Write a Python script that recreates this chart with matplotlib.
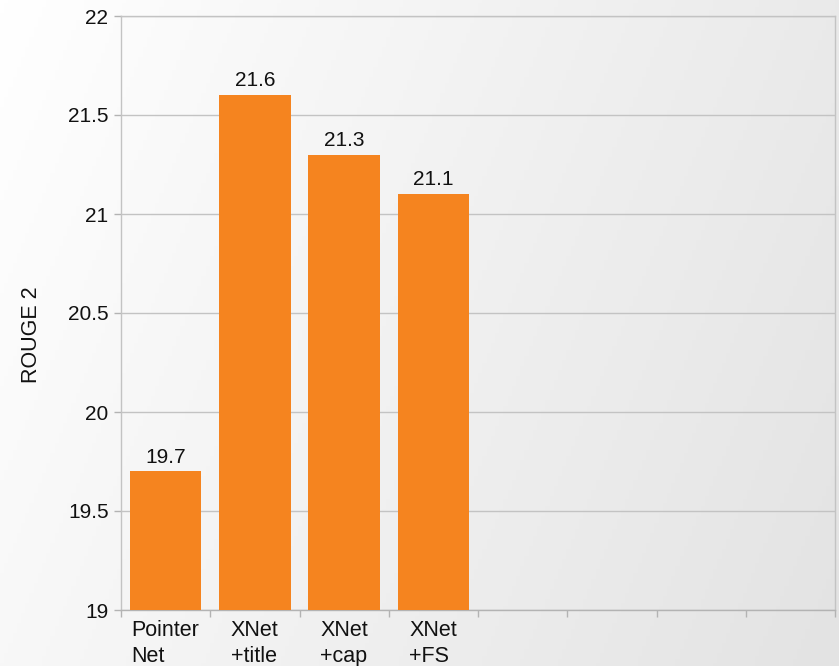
import numpy as np
import matplotlib
matplotlib.use("Agg")
import matplotlib.pyplot as plt
from matplotlib.colors import LinearSegmentedColormap

plt.rcParams['font.family'] = ['Liberation Sans', 'DejaVu Sans']

categories = ["Pointer\nNet", "XNet\n+title", "XNet\n+cap", "XNet\n+FS", "", "", "", ""]
values = [19.7, 21.6, 21.3, 21.1]
value_labels = ["19.7", "21.6", "21.3", "21.1"]
yticks = [19, 19.5, 20, 20.5, 21, 21.5, 22]
ytick_labels = ["19", "19.5", "20", "20.5", "21", "21.5", "22"]

W, H = 839, 666
fig = plt.figure(figsize=(W / 100, H / 100), dpi=100)

# background gradient
bg = fig.add_axes([0, 0, 1, 1], zorder=-10)
xx, yy = np.meshgrid(np.linspace(0, 1, 200), np.linspace(0, 1, 200))
grad = 0.75 * xx + 0.25 * yy
cmap = LinearSegmentedColormap.from_list("bg", ["#ffffff", "#e3e3e3"])
bg.imshow(grad, cmap=cmap, aspect='auto', extent=[0, 1, 0, 1], origin='upper')
bg.axis('off')

ax = fig.add_axes([121 / W, (H - 610) / H, (835 - 121) / W, (610 - 16) / H])
ax.patch.set_alpha(0)

FS = 15
n = len(categories)
centers = np.arange(n) + 0.5
bar_x = centers[:len(values)]
bars = ax.bar(bar_x, values, width=0.8, bottom=0, color="#f5841f", zorder=3)
for x, v, lab in zip(bar_x, values, value_labels):
    ax.annotate(lab, (x, v), xytext=(0, 3.5), textcoords='offset points',
                ha='center', va='bottom', fontsize=FS, color='#111111')

ax.set_xlim(0, n)
ax.set_ylim(19, 22)
ax.set_yticks(yticks)
ax.set_yticklabels(ytick_labels, fontsize=FS, color='#111111')
ax.grid(axis='y', color='#c3c3c3', linewidth=1, zorder=0)
ax.set_axisbelow(True)

ax.set_xticks(np.arange(n + 1))
ax.set_xticklabels([])
ax.set_xticks(centers, minor=True)
ax.set_xticklabels(categories, minor=True, fontsize=15.5, color='#111111',
                   multialignment='left', linespacing=1.35)
ax.tick_params(axis='x', which='major', length=5, color='#b3b3b3', width=1)
ax.tick_params(axis='x', which='minor', length=0, pad=7)
ax.tick_params(axis='y', length=5, color='#b3b3b3', width=1, pad=4)

for s in ax.spines.values():
    s.set_color('#c3c3c3')
    s.set_linewidth(1)
ax.spines['bottom'].set_color('#b3b3b3')

ax.set_ylabel("ROUGE 2", fontsize=15.5, color='#111111')
ax.yaxis.set_label_coords(-0.111, 0.463)

fig.savefig("out.png", dpi=100)
